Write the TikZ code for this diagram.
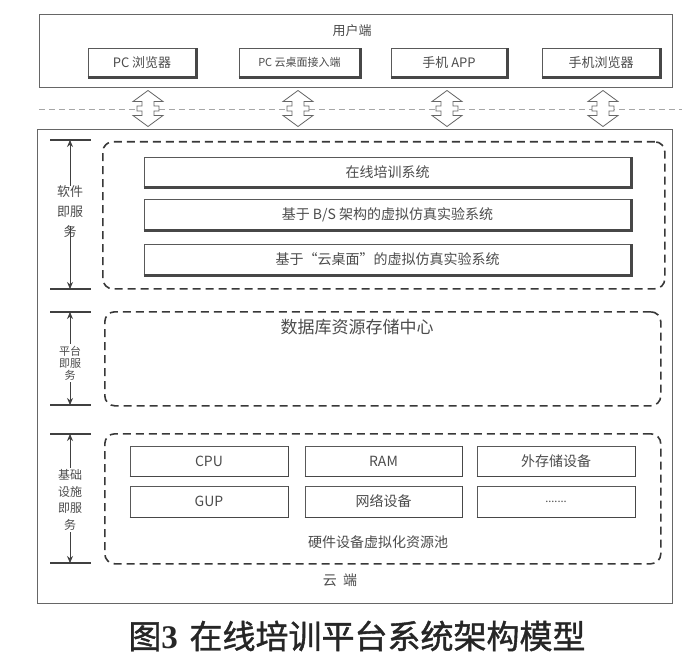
\documentclass[tikz,border=0pt]{standalone}
\usepackage{fontspec}
\setmainfont{Noto Sans CJK SC}
\newfontfamily\numfont{Liberation Serif}
\newfontfamily\capfont[FakeBold=1.2]{Noto Sans CJK SC}
\usetikzlibrary{arrows.meta}
\definecolor{txt}{gray}{0.30}
\definecolor{ln}{gray}{0.40}
\begin{document}
\begin{tikzpicture}[x=1pt,y=-1pt,
  outer/.style={draw=ln, line width=1.2pt, inner sep=0pt, anchor=north west},
  dbox/.style={draw=black!78, line width=1.6pt, dash pattern=on 8pt off 5pt, rounded corners=10pt, inner sep=0pt, anchor=north west},
  bx/.style={draw=black!65, line width=0.9pt, fill=white, inner sep=0pt, text=txt},
  shadowln/.style={draw=black!72, line width=2.2pt},
  lbl/.style={text=txt, align=center, inner sep=2pt},
  tick/.style={draw=black!75, line width=1.2pt},
  arr/.style={draw=black!75, line width=0.9pt, -{Stealth[length=7pt,width=6pt]}},
  dblarrow/.pic={\draw[draw=black!60, line width=0.8pt, fill=white]
     (0,-18) -- (15,-7) -- (6,-7) -- (6,-2.5) -- (11,-2.5) -- (11,2.5) -- (6,2.5) -- (6,7) -- (15,7) -- (0,18)
     -- (-15,7) -- (-6,7) -- (-6,2.5) -- (-11,2.5) -- (-11,-2.5) -- (-6,-2.5) -- (-6,-7) -- (-15,-7) -- cycle;}
]
\useasboundingbox[fill=white] (0,0) rectangle (700,668);

% user side
\node[outer, minimum width=633, minimum height=73] (user) at (39,14) {};
\node[text=txt, font=\fontsize{13}{15}\selectfont] (usert) at (352,31) {用户端};
\node[bx, minimum width=108, minimum height=29, font=\fontsize{13}{15}\selectfont] (pc) at (142,62.5) {PC 浏览器};
\node[bx, minimum width=121, minimum height=29, font=\fontsize{11}{13}\selectfont] (pcy) at (299.5,62.5) {PC 云桌面接入端};
\node[bx, minimum width=116, minimum height=29, font=\fontsize{13}{15}\selectfont] (app) at (449,62.5) {手机 APP};
\node[bx, minimum width=118, minimum height=29, font=\fontsize{13}{15}\selectfont] (mb) at (601,62.5) {手机浏览器};
\foreach \n in {pc,pcy,app,mb}{\draw[shadowln] (\n.south west) -- (\n.south east) -- (\n.north east);}

% dashed separator
\coordinate (sepl) at (39,109);
\coordinate (sepr) at (682,109);
\draw[draw=gray!70, line width=0.8pt, dash pattern=on 6pt off 4pt] (sepl) -- (sepr);
\foreach \x in {148,298,447,603}{\pic at (\x,108.5) {dblarrow};}

% cloud
\node[outer, minimum width=635, minimum height=474] (cloud) at (37,129) {};

% SaaS
\node[dbox, minimum width=562, minimum height=147] (saas) at (102,141) {};
\node[bx, minimum width=487, minimum height=30, font=\fontsize{14}{16}\selectfont] (b1) at (387.5,172) {在线培训系统};
\node[bx, minimum width=487, minimum height=31, font=\fontsize{14}{16}\selectfont] (b2) at (387.5,214.5) {基于 B/S 架构的虚拟仿真实验系统};
\node[bx, minimum width=487, minimum height=31, font=\fontsize{14}{16}\selectfont] (b3) at (387.5,259.5) {基于“云桌面”的虚拟仿真实验系统};
\foreach \n in {b1,b2,b3}{\draw[shadowln] (\n.south west) -- (\n.south east) -- (\n.north east);}

% PaaS
\node[dbox, minimum width=556, minimum height=94] (paas) at (104,311) {};
\node[text=txt, font=\fontsize{17}{19}\selectfont] (db) at (357,327) {数据库资源存储中心};

% IaaS
\node[dbox, minimum width=556, minimum height=130] (iaas) at (104,433) {};
\node[bx, minimum width=158, minimum height=30, font=\fontsize{14}{16}\selectfont] (cpu) at (209,461) {CPU};
\node[bx, minimum width=157, minimum height=30, font=\fontsize{14}{16}\selectfont] (ram) at (383.5,461) {RAM};
\node[bx, minimum width=158, minimum height=30, font=\fontsize{14}{16}\selectfont] (ext) at (556,461) {外存储设备};
\node[bx, minimum width=158, minimum height=31, font=\fontsize{14}{16}\selectfont] (gup) at (209,501.5) {GUP};
\node[bx, minimum width=157, minimum height=31, font=\fontsize{14}{16}\selectfont] (net) at (383.5,501.5) {网络设备};
\node[bx, minimum width=158, minimum height=31, font=\fontsize{11}{13}\selectfont] (etc) at (556,501.5) {.......};
\foreach \n in {cpu,ram,ext,gup,net,etc}{\draw[shadowln, line width=1.6pt] (\n.south west) -- (\n.south east) -- (\n.north east);}
\node[text=txt, font=\fontsize{14}{16}\selectfont] (pool) at (378,542) {硬件设备虚拟化资源池};
\node[text=txt, font=\fontsize{14}{16}\selectfont] (yd) at (340,580) {云\ \ 端};

% left brackets
\coordinate (s1l) at (50,140); \coordinate (s1r) at (91,140); \coordinate (s1) at (70,140);
\coordinate (s2l) at (50,289); \coordinate (s2r) at (91,289); \coordinate (s2) at (70,289);
\draw[tick] (s1l) -- (s1r); \draw[tick] (s2l) -- (s2r);
\node[lbl, font=\fontsize{13}{20}\selectfont] (saasl) at (70,212) {软件\\即服\\务};
\draw[arr] ([yshift=-2pt]saasl.north) -- (s1);
\draw[arr] ([yshift=14pt]saasl.south) -- (s2);

\coordinate (p1l) at (50,312); \coordinate (p1r) at (91,312); \coordinate (p1) at (70,312);
\coordinate (p2l) at (50,405); \coordinate (p2r) at (91,405); \coordinate (p2) at (70,405);
\draw[tick] (p1l) -- (p1r); \draw[tick] (p2l) -- (p2r);
\node[lbl, font=\fontsize{11}{12}\selectfont] (paasl) at (70,363) {平台\\即服\\务};
\draw[arr] (paasl.north) -- (p1);
\draw[arr] (paasl.south) -- (p2);

\coordinate (i1l) at (50,434); \coordinate (i1r) at (91,434); \coordinate (i1) at (70,434);
\coordinate (i2l) at (50,563); \coordinate (i2r) at (91,563); \coordinate (i2) at (70,563);
\draw[tick] (i1l) -- (i1r); \draw[tick] (i2l) -- (i2r);
\node[lbl, font=\fontsize{12}{16.5}\selectfont] (iaasl) at (70,500) {基础\\设施\\即服\\务};
\draw[arr] (iaasl.north) -- (i1);
\draw[arr] (iaasl.south) -- (i2);

% caption
\node[font=\fontsize{33}{36}\capfont, text=black!85] (cap) at (357,636) {图{\numfont\bfseries 3}\hspace{0.35em}在线培训平台系统架构模型};
\end{tikzpicture}
\end{document}
